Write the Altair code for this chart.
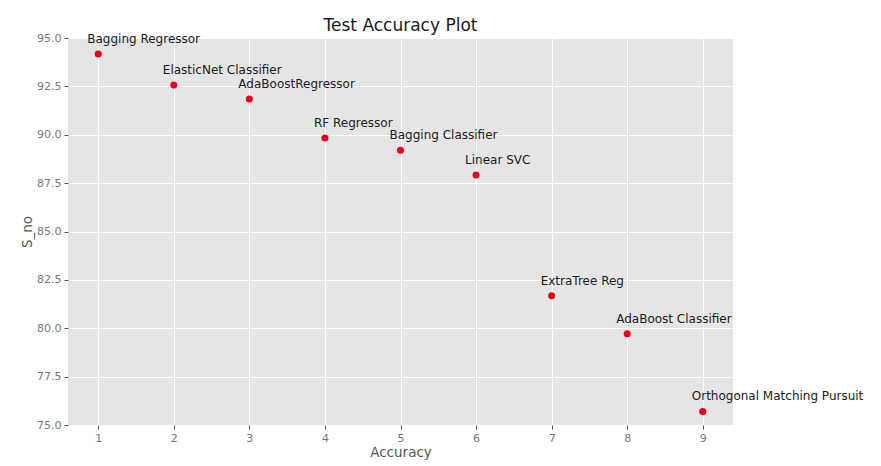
import altair as alt
import pandas as pd

s_no = [1, 2, 3, 4, 5, 6, 7, 8, 9]
accuracy = [94.17, 92.57, 91.85, 89.83, 89.2, 87.92, 81.68, 79.72, 75.7]
names = ["Bagging Regressor", "ElasticNet Classifier", "AdaBoostRegressor",
         "RF Regressor", "Bagging Classifier", "Linear SVC", "ExtraTree Reg",
         "AdaBoost Classifier", "Orthogonal Matching Pursuit"]
x_ticks = [1, 2, 3, 4, 5, 6, 7, 8, 9]
y_ticks = [75.0, 77.5, 80.0, 82.5, 85.0, 87.5, 90.0, 92.5, 95.0]

df = pd.DataFrame({"s_no": s_no, "acc": accuracy, "name": names})

FONT = "DejaVu Sans"

x = alt.X("s_no:Q", scale=alt.Scale(domain=[0.6, 9.4], nice=False, zero=False),
          axis=alt.Axis(values=x_ticks, title="Accuracy", format="d"))
y = alt.Y("acc:Q", scale=alt.Scale(domain=[75, 95], nice=False, zero=False),
          axis=alt.Axis(values=y_ticks, title="S_no", format=".1f"))

pts = alt.Chart(df).mark_circle(size=50, color="#e8001c", opacity=1).encode(x=x, y=y)
labels = alt.Chart(df).mark_text(align="left", baseline="alphabetic", dx=-11, dy=-11,
                                 fontSize=12, font=FONT, color="#1a1a1a").encode(
    x=x, y=y, text="name:N")

chart = (pts + labels).properties(
    width=665, height=387,
    title=alt.TitleParams("Test Accuracy Plot", fontSize=17, font=FONT,
                          fontWeight="normal", color="#1a1a1a", offset=-3),
    autosize=alt.AutoSizeParams(type="none"),
    padding={"left": 60, "top": 30, "right": 140, "bottom": 41},
).configure_view(fill="#e5e5e5", stroke=None).configure_axis(
    grid=True, gridColor="white", gridWidth=1, domain=False,
    tickColor="#555555", tickSize=4, labelColor="#777777", labelFontSize=11,
    labelFont=FONT, titleFont=FONT, titleFontSize=13.5, titleFontWeight="normal",
    titleColor="#555555", labelPadding=3, titlePadding=2,
)

chart.save("out.html", embed_options={"renderer": "svg", "actions": False})
